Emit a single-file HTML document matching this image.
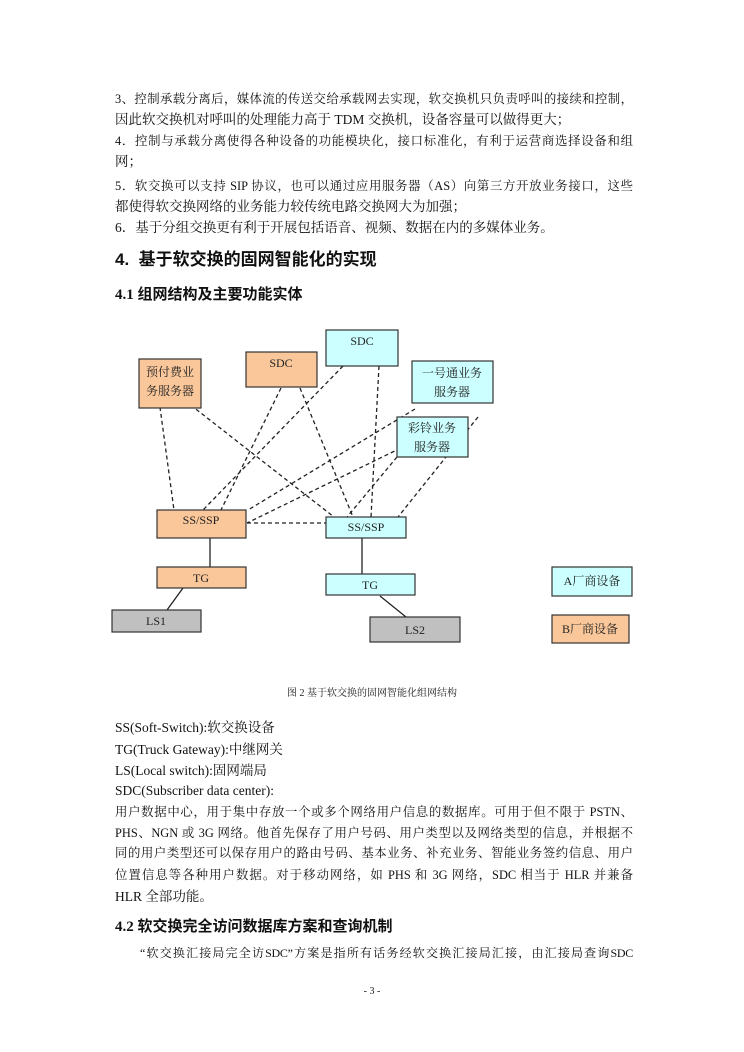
<!DOCTYPE html>
<html><head><meta charset="utf-8">
<style>
html,body{margin:0;padding:0;background:#fff;}
body{width:744px;height:1052px;position:relative;overflow:hidden;font-family:"Liberation Serif","Noto Serif CJK SC",serif;color:#111;}
.l{position:absolute;left:115px;font-size:13.5px;line-height:16px;white-space:nowrap;}
.j{width:518px;text-align:justify;text-align-last:justify;white-space:normal;font-size:12.4px;}
.h1{position:absolute;left:115px;font-family:"Liberation Sans","Noto Sans CJK SC",sans-serif;font-weight:bold;font-size:17px;line-height:20px;}
.h2{position:absolute;left:115px;font-family:"Liberation Serif","Noto Sans CJK SC",sans-serif;font-weight:bold;font-size:15px;line-height:18px;}
svg{position:absolute;left:0;top:0;}
</style></head><body>
<div class="l j" style="top:91px">3、控制承载分离后，媒体流的传送交给承载网去实现，软交换机只负责呼叫的接续和控制，</div>
<div class="l" style="top:112px">因此软交换机对呼叫的处理能力高于 TDM 交换机，设备容量可以做得更大；</div>
<div class="l j" style="top:133px">4．控制与承载分离使得各种设备的功能模块化，接口标准化，有利于运营商选择设备和组</div>
<div class="l" style="top:154px">网；</div>
<div class="l j" style="top:178px">5．软交换可以支持 SIP 协议，也可以通过应用服务器（AS）向第三方开放业务接口，这些</div>
<div class="l" style="top:199px">都使得软交换网络的业务能力较传统电路交换网大为加强；</div>
<div class="l" style="top:220px">6．基于分组交换更有利于开展包括语音、视频、数据在内的多媒体业务。</div>
<div class="h1" style="top:250px">4.&nbsp; 基于软交换的固网智能化的实现</div>
<div class="h2" style="top:286px">4.1 组网结构及主要功能实体</div>

<svg width="744" height="1052" xmlns="http://www.w3.org/2000/svg" font-family="Liberation Serif, Noto Serif CJK SC, serif" font-size="12" text-anchor="middle">
<g stroke="#222" stroke-width="1.3" stroke-dasharray="4,3" fill="none">
<line x1="159" y1="400" x2="174" y2="510"/>
<line x1="174" y1="392" x2="334" y2="517"/>
<line x1="281" y1="388" x2="221" y2="510"/>
<line x1="300" y1="388" x2="353" y2="517"/>
<line x1="343" y1="366" x2="203" y2="510"/>
<line x1="379" y1="366" x2="371" y2="517"/>
<line x1="415" y1="409" x2="248" y2="510"/>
<line x1="407" y1="445" x2="247" y2="523"/>
<line x1="478" y1="417" x2="398" y2="517"/>
<line x1="397" y1="457" x2="347" y2="517"/>
<line x1="247" y1="523" x2="326" y2="523"/>
</g>
<g stroke="#222" stroke-width="1.3">
<line x1="210" y1="538" x2="210" y2="567"/>
<line x1="183" y1="588" x2="167" y2="610"/>
<line x1="362" y1="538" x2="362" y2="574"/>
<line x1="380" y1="596" x2="406" y2="617"/>
</g>
<g stroke="#333" stroke-width="1.2">
<rect x="139" y="359" width="62" height="49" fill="#f9c79a"/>
<rect x="246" y="352" width="71" height="35" fill="#f9c79a"/>
<rect x="326" y="330" width="72" height="36" fill="#ccffff"/>
<rect x="412" y="361" width="81" height="42" fill="#ccffff"/>
<rect x="397" y="417" width="71" height="40" fill="#ccffff"/>
<rect x="157" y="510" width="89" height="28" fill="#f9c79a"/>
<rect x="326" y="517" width="80" height="21" fill="#ccffff"/>
<rect x="157" y="567" width="89" height="21" fill="#f9c79a"/>
<rect x="326" y="574" width="89" height="21" fill="#ccffff"/>
<rect x="112" y="610" width="89" height="22" fill="#c0c0c0"/>
<rect x="370" y="617" width="90" height="25" fill="#c0c0c0"/>
<rect x="552" y="567" width="80" height="29" fill="#ccffff"/>
<rect x="552" y="615" width="77" height="28" fill="#f9c79a"/>
</g>
<g fill="#222">
<text x="170" y="376">预付费业</text>
<text x="170" y="395">务服务器</text>
<text x="281" y="367">SDC</text>
<text x="362" y="345">SDC</text>
<text x="452" y="377">一号通业务</text>
<text x="452" y="396">服务器</text>
<text x="432" y="432">彩铃业务</text>
<text x="432" y="451">服务器</text>
<text x="201" y="524">SS/SSP</text>
<text x="366" y="531">SS/SSP</text>
<text x="201" y="582">TG</text>
<text x="370" y="589">TG</text>
<text x="156" y="625">LS1</text>
<text x="415" y="634">LS2</text>
<text x="592" y="585">A厂商设备</text>
<text x="590" y="633">B厂商设备</text>
<text x="372" y="696" font-size="10">图 2 基于软交换的固网智能化组网结构</text>
<text x="372" y="994" font-size="10">- 3 -</text>
</g>
</svg>

<div class="l" style="top:720px">SS(Soft-Switch):软交换设备</div>
<div class="l" style="top:742px">TG(Truck Gateway):中继网关</div>
<div class="l" style="top:763px">LS(Local switch):固网端局</div>
<div class="l" style="top:783px">SDC(Subscriber data center):</div>
<div class="l j" style="top:804px">用户数据中心，用于集中存放一个或多个网络用户信息的数据库。可用于但不限于 PSTN、</div>
<div class="l j" style="top:825px">PHS、NGN 或 3G 网络。他首先保存了用户号码、用户类型以及网络类型的信息，并根据不</div>
<div class="l j" style="top:845px">同的用户类型还可以保存用户的路由号码、基本业务、补充业务、智能业务签约信息、用户</div>
<div class="l j" style="top:867px">位置信息等各种用户数据。对于移动网络，如 PHS 和 3G 网络，SDC 相当于 HLR 并兼备</div>
<div class="l" style="top:889px">HLR 全部功能。</div>
<div class="h2" style="top:918px">4.2 软交换完全访问数据库方案和查询机制</div>
<div class="l" style="top:945px;left:140px;width:493px;text-align:justify;text-align-last:justify;white-space:normal;font-size:12px;letter-spacing:-0.3px;">“软交换汇接局完全访SDC”方案是指所有话务经软交换汇接局汇接，由汇接局查询SDC</div>
</body></html>
